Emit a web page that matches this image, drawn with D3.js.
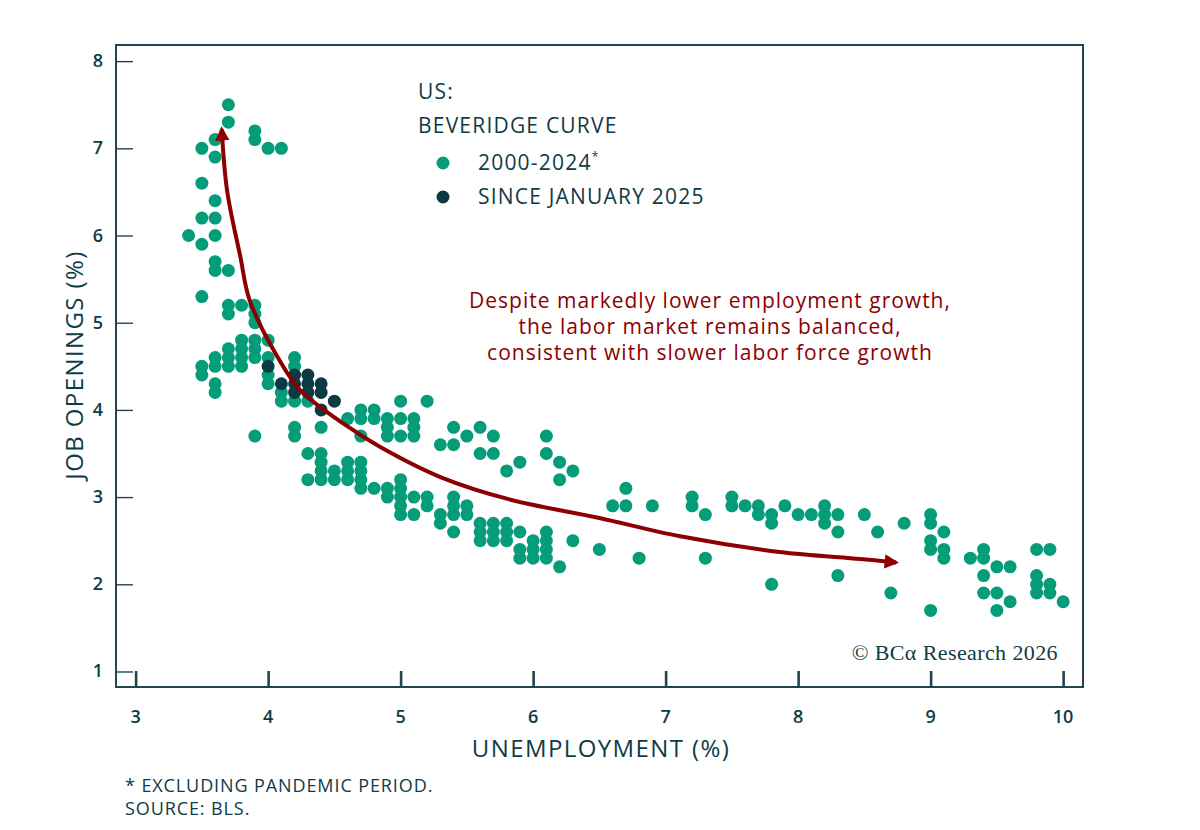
<!DOCTYPE html>
<html>
<head>
<meta charset="utf-8">
<script src="https://cdn.jsdelivr.net/npm/d3@7"></script>
<style>
  body { margin: 0; background: #ffffff; }
  text { font-family: "Open Sans", "Lato", sans-serif; font-weight: 500; }
</style>
</head>
<body>
<div id="chart"></div>
<script>
// 2000-2024 (pandemic excluded): [unemployment %, job openings %]
const history = [
  [3.7,7.5],[3.7,7.3],[3.6,7.1],[3.9,7.2],[3.9,7.1],[4.0,7.0],[4.1,7.0],[3.5,7.0],
  [3.6,6.9],[3.5,6.6],[3.6,6.4],[3.5,6.2],[3.6,6.2],[3.4,6.0],[3.6,6.0],[3.5,5.9],
  [3.6,5.7],[3.6,5.6],[3.7,5.6],[3.5,5.3],[3.7,5.2],[3.8,5.2],[3.9,5.2],[3.7,5.1],
  [3.9,5.1],[3.9,5.0],[3.8,4.8],[3.9,4.8],[4.0,4.8],[3.7,4.7],[3.8,4.7],[3.9,4.7],
  [3.6,4.6],[3.7,4.6],[3.8,4.6],[3.9,4.6],[4.0,4.6],[3.5,4.5],[3.6,4.5],[3.7,4.5],
  [3.8,4.5],[3.5,4.4],[3.6,4.3],[3.6,4.2],[3.9,3.7],[4.0,4.4],[4.0,4.3],[4.1,4.2],
  [4.1,4.1],[4.2,4.6],[4.2,4.5],[4.2,4.1],[4.3,4.1],[4.2,3.8],[4.2,3.7],[4.4,3.8],
  [4.6,3.9],[4.7,4.0],[4.7,3.9],[4.8,4.0],[4.8,3.9],[4.7,3.7],[4.9,3.9],[4.9,3.8],
  [4.9,3.7],[5.0,4.1],[5.0,3.9],[5.0,3.7],[5.1,3.9],[5.1,3.8],[5.1,3.7],[5.2,4.1],
  [5.3,3.6],[5.4,3.6],[5.4,3.8],[5.5,3.7],[5.6,3.8],[5.7,3.7],[5.6,3.5],[5.7,3.5],
  [5.8,3.3],[5.9,3.4],[6.1,3.7],[6.1,3.5],[6.2,3.4],[6.2,3.2],[6.3,3.3],
  [4.3,3.5],[4.4,3.5],[4.4,3.4],[4.4,3.3],[4.4,3.2],[4.3,3.2],[4.5,3.3],[4.5,3.2],
  [4.6,3.4],[4.6,3.3],[4.6,3.2],[4.7,3.4],[4.7,3.3],[4.7,3.2],[4.7,3.1],[4.8,3.1],
  [4.9,3.1],[4.9,3.0],[5.0,3.2],[5.0,3.1],[5.0,3.0],[5.0,2.9],[5.0,2.8],[5.1,3.0],
  [5.1,2.8],[5.2,3.0],[5.2,2.9],[5.3,2.8],[5.3,2.7],[5.4,3.0],[5.4,2.9],[5.4,2.8],
  [5.4,2.6],[5.5,2.9],[5.5,2.8],[5.6,2.7],[5.6,2.6],[5.6,2.5],[5.7,2.7],[5.7,2.6],
  [5.7,2.5],[5.8,2.7],[5.8,2.6],[5.8,2.5],[5.9,2.6],[5.9,2.4],[5.9,2.3],[6.0,2.5],
  [6.0,2.4],[6.0,2.3],[6.1,2.6],[6.1,2.5],[6.1,2.4],[6.1,2.3],[6.2,2.2],[6.3,2.5],
  [6.5,2.4],[6.6,2.9],[6.7,3.1],[6.7,2.9],[6.9,2.9],[6.8,2.3],[7.2,3.0],[7.2,2.9],
  [7.3,2.8],[7.3,2.3],[7.5,3.0],[7.5,2.9],[7.6,2.9],[7.7,2.9],[7.7,2.8],[7.8,2.8],
  [7.8,2.7],[7.8,2.0],[7.9,2.9],[8.0,2.8],[8.1,2.8],[8.2,2.9],[8.2,2.8],[8.2,2.7],
  [8.3,2.8],[8.3,2.6],[8.3,2.1],[8.5,2.8],[8.6,2.6],[8.7,1.9],[8.8,2.7],[9.0,2.8],
  [9.0,2.7],[9.0,2.5],[9.0,2.4],[9.0,1.7],[9.1,2.6],[9.1,2.4],[9.1,2.3],[9.3,2.3],
  [9.4,2.4],[9.4,2.3],[9.4,2.1],[9.4,1.9],[9.5,2.2],[9.5,1.9],[9.5,1.7],[9.6,2.2],
  [9.6,1.8],[9.8,2.4],[9.9,2.4],[9.8,2.1],[9.8,2.0],[9.8,1.9],[9.9,2.0],[9.9,1.9],
  [10.0,1.8]
];

// since January 2025
const recent = [
  [4.0,4.5],[4.1,4.3],[4.2,4.4],[4.2,4.3],[4.2,4.2],[4.3,4.4],
  [4.3,4.3],[4.3,4.2],[4.4,4.3],[4.4,4.2],[4.4,4.0],[4.5,4.1]
];

// hand-drawn trend arrow, in data units
const arrowPath = [
  [3.65,7.22],[3.69,6.52],[3.79,5.76],[3.86,5.26],[4.07,4.61],[4.24,4.23],
  [4.60,3.81],[4.84,3.58],[5.30,3.23],[5.83,2.97],[6.50,2.76],[7.11,2.55],
  [7.86,2.37],[8.47,2.29],[8.74,2.25]
];

const xTicks = [3, 4, 5, 6, 7, 8, 9, 10];
const yTicks = [1, 2, 3, 4, 5, 6, 7, 8];
const legendLabels = ["2000-2024", "SINCE JANUARY 2025"];
const noteLines = [
  "Despite markedly lower employment growth,",
  "the labor market remains balanced,",
  "consistent with slower labor force growth"
];

const green = "#059c79";
const dark = "#0c3a44";
const ink = "#0f3b45";
const red = "#8c0000";

const W = 1200, H = 830;
const plot = { left: 116, right: 1083, top: 45, bottom: 687 };

const svg = d3.select("#chart").append("svg")
    .attr("width", W)
    .attr("height", H);

const x = d3.scaleLinear()
    .domain([2.852, 10.15])
    .range([plot.left, plot.right]);

const y = d3.scaleLinear()
    .domain([0.822, 8.185])
    .range([plot.bottom, plot.top]);

// frame
svg.append("rect")
    .attr("x", plot.left)
    .attr("y", plot.top)
    .attr("width", plot.right - plot.left)
    .attr("height", plot.bottom - plot.top)
    .attr("fill", "none")
    .attr("stroke", "#21464f")
    .attr("stroke-width", 2);

// y axis: ticks point inward
const yAxis = svg.append("g")
    .attr("transform", `translate(${plot.left},0)`)
    .call(d3.axisRight(y).tickValues(yTicks).tickSize(17).tickFormat(""));
yAxis.select(".domain").remove();
yAxis.selectAll("line").attr("stroke", "#21464f").attr("stroke-width", 1.4);

svg.append("g").selectAll("text")
    .data(yTicks)
    .join("text")
    .attr("x", 98)
    .attr("y", d => y(d) + 6)
    .attr("text-anchor", "middle")
    .attr("font-size", 18)
    .style("font-weight", 600)
    .attr("fill", ink)
    .text(d => d);

// x axis: ticks point upward
const xAxis = svg.append("g")
    .attr("transform", `translate(0,${plot.bottom})`)
    .call(d3.axisTop(x).tickValues(xTicks).tickSize(16).tickFormat(""));
xAxis.select(".domain").remove();
xAxis.selectAll("line").attr("stroke", "#21464f").attr("stroke-width", 2.6);

svg.append("g").selectAll("text")
    .data(xTicks)
    .join("text")
    .attr("x", d => x(d))
    .attr("y", 723)
    .attr("text-anchor", "middle")
    .attr("font-size", 18)
    .style("font-weight", 600)
    .attr("fill", ink)
    .text(d => d);

// axis titles
svg.append("text")
    .attr("x", 601)
    .attr("y", 757)
    .attr("text-anchor", "middle")
    .attr("font-size", 24)
    .attr("letter-spacing", 1.4)
    .attr("fill", ink)
    .text("UNEMPLOYMENT (%)");

svg.append("text")
    .attr("transform", "translate(83,365) rotate(-90)")
    .attr("text-anchor", "middle")
    .attr("font-size", 24)
    .attr("letter-spacing", 1.4)
    .attr("fill", ink)
    .text("JOB OPENINGS (%)");

// points
svg.append("g").selectAll("circle")
    .data(history)
    .join("circle")
    .attr("cx", d => x(d[0]))
    .attr("cy", d => y(d[1]))
    .attr("r", 6.5)
    .attr("fill", green);

svg.append("g").selectAll("circle")
    .data(recent)
    .join("circle")
    .attr("cx", d => x(d[0]))
    .attr("cy", d => y(d[1]))
    .attr("r", 6.5)
    .attr("fill", dark);

// arrow
svg.append("defs").append("marker")
    .attr("id", "head")
    .attr("viewBox", "0 0 10 10")
    .attr("refX", 8)
    .attr("refY", 5)
    .attr("markerWidth", 3.6)
    .attr("markerHeight", 3.6)
    .attr("orient", "auto-start-reverse")
    .append("path")
    .attr("d", "M0,0 L10,5 L0,10 Z")
    .attr("fill", red);

svg.append("path")
    .datum(arrowPath)
    .attr("d", d3.line()
        .x(d => x(d[0]))
        .y(d => y(d[1]))
        .curve(d3.curveCatmullRom.alpha(0.5)))
    .attr("fill", "none")
    .attr("stroke", red)
    .attr("stroke-width", 4)
    .attr("marker-start", "url(#head)")
    .attr("marker-end", "url(#head)");

// legend
const legend = svg.append("g");
legend.append("text")
    .attr("x", 418).attr("y", 99)
    .attr("font-size", 21).attr("letter-spacing", 1.2).attr("fill", ink)
    .text("US:");
legend.append("text")
    .attr("x", 418).attr("y", 133)
    .attr("font-size", 21).attr("letter-spacing", 1.2).attr("fill", ink)
    .text("BEVERIDGE CURVE");

const items = legend.selectAll("g.item")
    .data(legendLabels)
    .join("g")
    .attr("class", "item")
    .attr("transform", (d, i) => `translate(443,${163 + i * 34})`);

items.append("circle")
    .attr("r", 6.5)
    .attr("fill", (d, i) => i === 0 ? green : dark);

const labels = items.append("text")
    .attr("x", 35)
    .attr("y", 7)
    .attr("font-size", 21)
    .attr("letter-spacing", 1.2)
    .attr("fill", ink)
    .text(d => d);
labels.filter((d, i) => i === 0)
    .append("tspan")
    .attr("dy", -9)
    .attr("font-size", 12)
    .text("*");

// annotation
svg.append("g").selectAll("text")
    .data(noteLines)
    .join("text")
    .attr("x", 710)
    .attr("y", (d, i) => 308 + i * 26)
    .attr("text-anchor", "middle")
    .attr("font-size", 21)
    .attr("letter-spacing", 1)
    .attr("fill", red)
    .text(d => d);

// credit
svg.append("text")
    .attr("x", 1058)
    .attr("y", 660)
    .attr("text-anchor", "end")
    .attr("font-size", 22)
    .attr("letter-spacing", 0.4)
    .attr("fill", ink)
    .style("font-family", "'Liberation Serif', 'DejaVu Serif', serif")
    .style("font-weight", 400)
    .text("© BCα Research 2026");

// footnotes
svg.append("text")
    .attr("x", 125).attr("y", 792)
    .attr("font-size", 18).attr("letter-spacing", 0.9).attr("fill", ink)
    .text("* EXCLUDING PANDEMIC PERIOD.");
svg.append("text")
    .attr("x", 125).attr("y", 815)
    .attr("font-size", 18).attr("letter-spacing", 0.9).attr("fill", ink)
    .text("SOURCE: BLS.");
</script>
</body>
</html>
